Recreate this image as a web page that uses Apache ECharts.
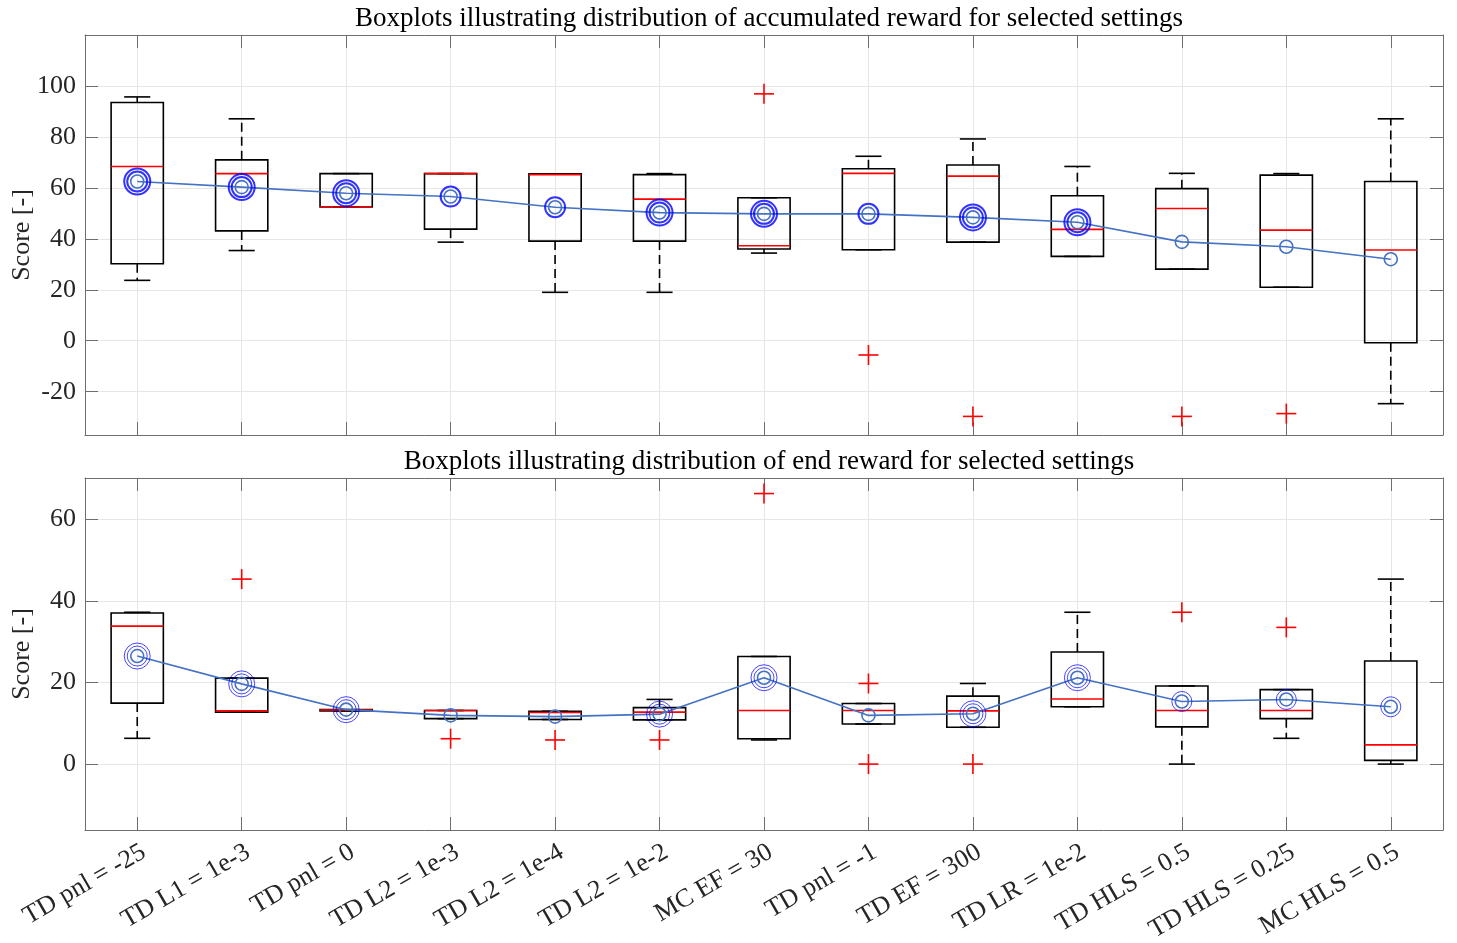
<!DOCTYPE html>
<html><head><meta charset="utf-8">
<script src="https://cdn.jsdelivr.net/npm/echarts@6/dist/echarts.min.js"></script>
<style>html,body{margin:0;padding:0;background:#fff}#c{width:1457px;height:943px}</style>
</head><body><div id="c"></div>
<script>
const categories = ['TD pnl = -25','TD L1 = 1e-3','TD pnl = 0','TD L2 = 1e-3','TD L2 = 1e-4','TD L2 = 1e-2','MC EF = 30','TD pnl = -1','TD EF = 300','TD LR = 1e-2','TD HLS = 0.5','TD HLS = 0.25','MC HLS = 0.5'];

// Top: accumulated reward
const accLowWhisker  = [23.7, 35.4, 52.5, 38.7, 19.0, 19.0, 34.4, 35.7, 38.7, 33.1, 28.1, 21.0, -24.7];
const accQ1          = [30.2, 43.1, 52.5, 43.8, 39.1, 39.1, 36.0, 35.7, 38.7, 33.1, 28.1, 21.0, -0.8];
const accMedian      = [68.4, 65.6, 52.5, 65.6, 65.2, 55.6, 37.3, 65.7, 64.6, 43.7, 51.9, 43.4, 35.6];
const accQ3          = [93.5, 71.0, 65.6, 65.6, 65.5, 65.2, 56.1, 67.5, 69.0, 56.9, 59.7, 65.0, 62.5];
const accHighWhisker = [95.7, 87.1, 65.6, 65.6, 65.5, 65.6, 56.1, 72.4, 79.2, 68.4, 65.7, 65.6, 87.1];
const accMean        = [62.5, 60.3, 57.9, 56.6, 52.4, 50.3, 49.8, 49.8, 48.4, 46.5, 38.8, 36.9, 32.0];
const accOutlierCat  = ['MC EF = 30', 'TD pnl = -1', 'TD EF = 300', 'TD HLS = 0.5', 'TD HLS = 0.25'];
const accOutlierVal  = [96.9, -5.6, -29.7, -29.7, -28.6];
const accRings       = [2, 2, 2, 1, 1, 2, 2, 1, 2, 2, 0, 0, 0];

// Bottom: end reward
const endLowWhisker  = [6.4, 12.8, 13.1, 11.2, 11.0, 10.9, 6.0, 9.9, 9.1, 14.1, 0.1, 6.4, 0.1];
const endQ1          = [15.0, 12.8, 13.1, 11.2, 11.0, 10.9, 6.3, 9.9, 9.1, 14.1, 9.2, 11.2, 1.0];
const endMedian      = [33.8, 13.1, 13.3, 13.2, 12.7, 12.8, 13.2, 13.2, 13.1, 16.0, 13.2, 13.2, 4.8];
const endQ3          = [37.0, 21.1, 13.4, 13.2, 13.0, 13.9, 26.4, 14.9, 16.7, 27.5, 19.2, 18.3, 25.3];
const endHighWhisker = [37.2, 21.1, 13.4, 13.2, 13.0, 15.9, 26.4, 14.9, 19.8, 37.2, 19.2, 18.3, 45.3];
const endMean        = [26.5, 19.7, 13.4, 12.0, 11.7, 12.3, 21.2, 12.0, 12.4, 21.2, 15.4, 15.9, 14.1];
const endOutlierCat  = ['TD L1 = 1e-3', 'TD L2 = 1e-3', 'TD L2 = 1e-4', 'TD L2 = 1e-2', 'MC EF = 30', 'TD pnl = -1', 'TD pnl = -1', 'TD EF = 300', 'TD HLS = 0.5', 'TD HLS = 0.25'];
const endOutlierVal  = [45.3, 6.3, 6.0, 6.0, 66.2, 19.8, 0.1, 0.1, 37.2, 33.5];
const endRings       = [2, 2, 2, 0, 0, 2, 2, 0, 2, 2, 1, 1, 1];

const titles = ['Boxplots illustrating distribution of accumulated reward for selected settings',
                'Boxplots illustrating distribution of end reward for selected settings'];
const yName = 'Score [-]';
const accRange = [-37, 120];
const endRange = [-16, 70];

const FONT = 'Liberation Serif';
const FRAME = '#6e6e6e';
const GRID = '#e6e6e6';
const MEANC = '#4472c4';

function boxRender(params, api) {
  const x = api.value(0);
  const unit = api.size([1, 0])[0];
  const hw = unit * 0.25, cw = unit * 0.125;
  const pt = v => api.coord([x, v]);
  const cx = pt(api.value(2))[0];
  const yLo = pt(api.value(1))[1], yQ1 = pt(api.value(2))[1], yMed = pt(api.value(3))[1],
        yQ3 = pt(api.value(4))[1], yHi = pt(api.value(5))[1];
  const solid = {stroke: '#000', lineWidth: 1.6, fill: null};
  const dash = {stroke: '#000', lineWidth: 1.6, lineDash: [9, 5]};
  const ch = [];
  if (yHi < yQ3 - 0.5) {
    ch.push({type: 'line', shape: {x1: cx, y1: yQ3, x2: cx, y2: yHi}, style: dash});
  }
  ch.push({type: 'line', shape: {x1: cx - cw, y1: yHi, x2: cx + cw, y2: yHi}, style: solid});
  if (yLo > yQ1 + 0.5) {
    ch.push({type: 'line', shape: {x1: cx, y1: yQ1, x2: cx, y2: yLo}, style: dash});
  }
  ch.push({type: 'line', shape: {x1: cx - cw, y1: yLo, x2: cx + cw, y2: yLo}, style: solid});
  ch.push({type: 'rect', shape: {x: cx - hw, y: yQ3, width: 2 * hw, height: Math.max(yQ1 - yQ3, 0.5)}, style: solid});
  ch.push({type: 'line', shape: {x1: cx - hw, y1: yMed, x2: cx + hw, y2: yMed}, style: {stroke: '#ff0000', lineWidth: 1.6}});
  return {type: 'group', children: ch};
}

function plusRender(params, api) {
  const p = api.coord([api.value(0), api.value(1)]);
  const s = 10;
  const st = {stroke: '#ff0000', lineWidth: 1.6};
  return {type: 'group', children: [
    {type: 'line', shape: {x1: p[0] - s, y1: p[1], x2: p[0] + s, y2: p[1]}, style: st},
    {type: 'line', shape: {x1: p[0], y1: p[1] - s, x2: p[0], y2: p[1] + s}, style: st}
  ]};
}

const grids = [
  {left: 85, top: 35, width: 1358, height: 400, containLabel: false, outerBoundsMode: 'none'},
  {left: 85, top: 478, width: 1358, height: 352, containLabel: false, outerBoundsMode: 'none'}
];

function xAxes(g, showLabels) {
  const base = {
    type: 'value', gridIndex: g, min: 0.5, max: 13.5, minInterval: 1, maxInterval: 1, splitNumber: 13,
    axisLine: {show: true, onZero: false, lineStyle: {color: FRAME, width: 1}},
    axisTick: {show: true, inside: true, length: 13, lineStyle: {color: FRAME, width: 1}}
  };
  return [
    Object.assign({}, base, {
      position: 'bottom',
      splitLine: {show: true, lineStyle: {color: GRID, width: 1}},
      axisLabel: {show: showLabels, rotate: 30, margin: 9, verticalAlign: 'top', align: 'right',
        fontFamily: FONT, fontSize: 26, color: '#262626',
        formatter: v => (Number.isInteger(v) && categories[v - 1]) ? categories[v - 1] : ''}
    }),
    Object.assign({}, base, {
      position: 'top', splitLine: {show: false}, axisLabel: {show: false}
    })
  ];
}

function yAxes(g, range) {
  const base = {
    type: 'value', gridIndex: g, min: range[0], max: range[1], minInterval: 20, maxInterval: 20, splitNumber: 8,
    axisLine: {show: true, onZero: false, lineStyle: {color: FRAME, width: 1}},
    axisTick: {show: true, inside: true, length: 13, lineStyle: {color: FRAME, width: 1}}
  };
  return [
    Object.assign({}, base, {
      position: 'left',
      name: yName, nameLocation: 'middle', nameGap: 50, nameRotate: 90, nameMoveOverlap: false,
      nameTextStyle: {fontFamily: FONT, fontSize: 26, color: '#262626'},
      splitLine: {show: true, lineStyle: {color: GRID, width: 1}},
      axisLabel: {show: true, margin: 9, fontFamily: FONT, fontSize: 26, color: '#262626',
        showMinLabel: false, showMaxLabel: false,
        formatter: v => (v % 20 === 0) ? String(v) : ''}
    }),
    Object.assign({}, base, {
      position: 'right', splitLine: {show: false}, axisLabel: {show: false}
    })
  ];
}

function seriesFor(g, lo, q1, med, q3, hi, mean, outCat, outVal, rings, ringWidth) {
  const xi = 2 * g, yi = 2 * g;
  const boxData = categories.map((c, i) => [i + 1, lo[i], q1[i], med[i], q3[i], hi[i]]);
  const meanData = categories.map((c, i) => [i + 1, mean[i]]);
  const outData = outCat.map((c, k) => [categories.indexOf(c) + 1, outVal[k]]);
  const ring1 = categories.map((c, i) => [i + 1, mean[i], rings[i]]).filter(d => d[2] >= 1);
  const ring2 = categories.map((c, i) => [i + 1, mean[i], rings[i]]).filter(d => d[2] >= 2);
  return [
    {type: 'custom', xAxisIndex: xi, yAxisIndex: yi, renderItem: boxRender, data: boxData, z: 2, silent: true,
      encode: {x: 0, y: [1, 2, 3, 4, 5]}},
    {type: 'line', xAxisIndex: xi, yAxisIndex: yi, data: meanData, z: 3, silent: true,
      symbol: 'circle', symbolSize: 13,
      lineStyle: {color: MEANC, width: 1.6},
      itemStyle: {color: 'rgba(0,0,0,0)', borderColor: MEANC, borderWidth: 1.6}},
    {type: 'scatter', xAxisIndex: xi, yAxisIndex: yi, data: ring1, z: 4, silent: true,
      symbol: 'circle', symbolSize: 20,
      itemStyle: {color: 'rgba(0,0,0,0)', borderColor: '#0000ff', borderWidth: ringWidth}},
    {type: 'scatter', xAxisIndex: xi, yAxisIndex: yi, data: ring2, z: 4, silent: true,
      symbol: 'circle', symbolSize: 26,
      itemStyle: {color: 'rgba(0,0,0,0)', borderColor: '#0000ff', borderWidth: ringWidth}},
    {type: 'custom', xAxisIndex: xi, yAxisIndex: yi, renderItem: plusRender, data: outData, z: 5, silent: true,
      encode: {x: 0, y: 1}}
  ];
}

const chart = echarts.init(document.getElementById('c'), null, {renderer: 'canvas'});
chart.setOption({
  animation: false,
  backgroundColor: '#fff',
  title: [
    {text: titles[0], left: 764, top: 0, textAlign: 'center',
      textStyle: {fontFamily: FONT, fontSize: 27, fontWeight: 'normal', color: '#000'}},
    {text: titles[1], left: 764, top: 443, textAlign: 'center',
      textStyle: {fontFamily: FONT, fontSize: 27, fontWeight: 'normal', color: '#000'}}
  ],
  grid: grids,
  xAxis: [...xAxes(0, false), ...xAxes(1, true)],
  yAxis: [...yAxes(0, accRange), ...yAxes(1, endRange)],
  series: [
    ...seriesFor(0, accLowWhisker, accQ1, accMedian, accQ3, accHighWhisker, accMean, accOutlierCat, accOutlierVal, accRings, 2),
    ...seriesFor(1, endLowWhisker, endQ1, endMedian, endQ3, endHighWhisker, endMean, endOutlierCat, endOutlierVal, endRings, 0.9)
  ]
});
</script>
</body></html>
